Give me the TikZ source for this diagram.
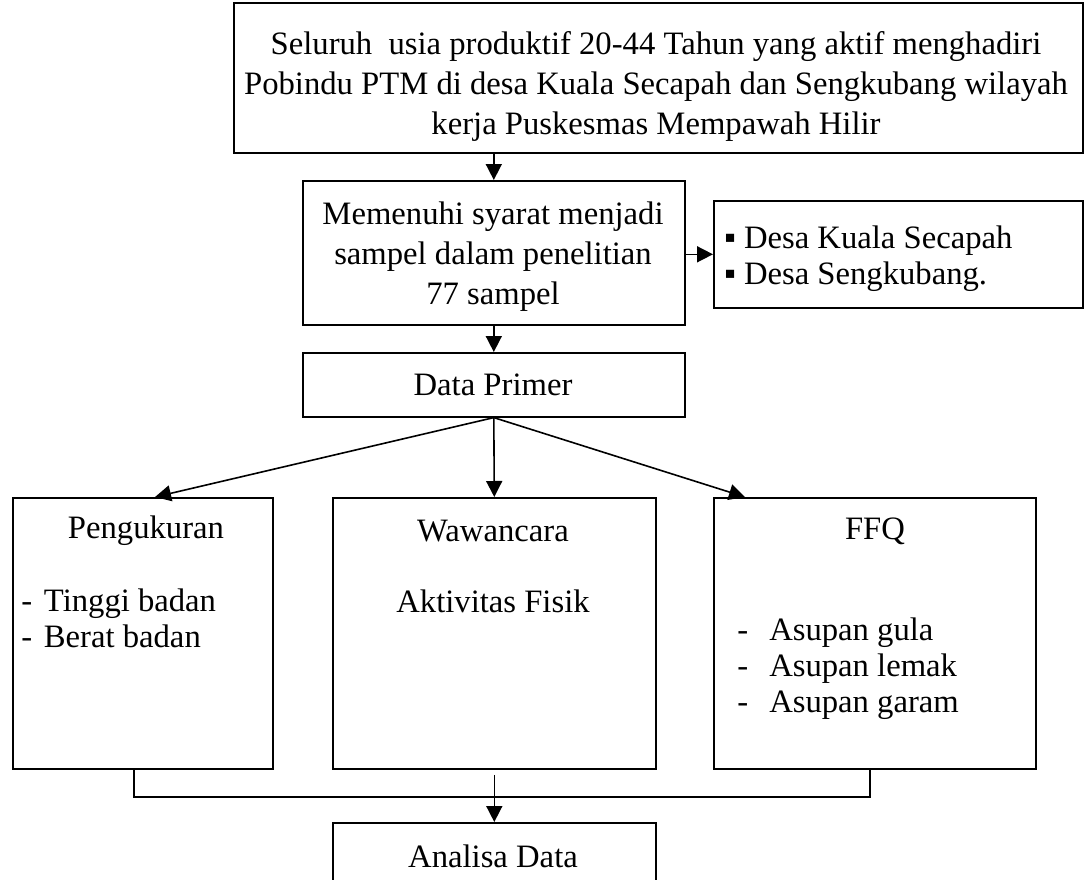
\documentclass[tikz,border=0pt]{standalone}
\usepackage{fontspec}
\setmainfont{Liberation Serif}
\usetikzlibrary{arrows.meta,positioning,calc}
\tikzset{
  kotak/.style={draw, line width=1.2pt, inner sep=0pt, anchor=north west},
  teks/.style={font=\fontsize{24.5}{30}\selectfont, inner sep=0pt, align=center},
  daftar/.style={font=\fontsize{24.5}{27}\selectfont, inner sep=0pt, anchor=west, align=left},
  garis/.style={line width=1.2pt},
  panah/.style={line width=1.2pt, -{Triangle[length=12pt,width=12pt]}},
}
\begin{document}
\begin{tikzpicture}[x=0.75pt,y=-0.75pt]
  \clip (0,0) rectangle (1084,879);

  % kotak-kotak
  \node[kotak, minimum width=636.75pt, minimum height=112.5pt] (populasi) at (233,2) {};
  \node[kotak, minimum width=286.5pt, minimum height=108pt] (syarat) at (302,180) {};
  \node[kotak, minimum width=276.75pt, minimum height=80.25pt] (desa) at (713,200) {};
  \node[kotak, minimum width=286.5pt, minimum height=48pt] (primer) at (302,352) {};
  \node[kotak, minimum width=195pt, minimum height=203.25pt] (ukur) at (12,497) {};
  \node[kotak, minimum width=242.25pt, minimum height=203.25pt] (wawan) at (332,497) {};
  \node[kotak, minimum width=241.5pt, minimum height=203.25pt] (ffq) at (713,497) {};
  \node[kotak, minimum width=242.25pt, minimum height=60pt] (analisa) at (332,822) {};

  % teks
  \node[teks] (tPopulasi) at (656,86) {Seluruh\ \ usia produktif 20-44 Tahun yang aktif menghadiri\\
    Pobindu PTM di desa Kuala Secapah dan Sengkubang wilayah\\
    kerja Puskesmas Mempawah Hilir};
  \node[teks] (tSyarat) at (493,257) {Memenuhi syarat menjadi\\sampel dalam penelitian\\77 sampel};
  \node[daftar] (tDesa) at (724,259) {▪ Desa Kuala Secapah\\▪ Desa Sengkubang.};
  \node[teks] (tPrimer) at (493,385) {Data Primer};
  \node[teks] (tUkur) at (146,531) {Pengukuran};
  \node[daftar] (tUkurIsi) at (21,618)
    {\makebox[17pt][l]{-}Tinggi badan\\\makebox[17pt][l]{-}Berat badan};
  \node[teks] (tWawan) at (493,531) {Wawancara};
  \node[teks] (tWawanIsi) at (493,601) {Aktivitas Fisik};
  \node[teks] (tFfq) at (875,531) {FFQ};
  \node[daftar] (tFfqIsi) at (737,669)
    {\makebox[24pt][l]{-}Asupan gula\\\makebox[24pt][l]{-}Asupan lemak\\\makebox[24pt][l]{-}Asupan garam};
  \node[teks] (tAnalisa) at (493,856) {Analisa Data};

  % panah
  \draw[panah] (syarat.north |- populasi.south) -- (syarat.north);
  \draw[panah] (syarat.east |- desa.west) -- (desa.west);
  \draw[panah] (syarat.south) -- (primer.north);
  \draw[panah] (primer.south) -- ($(ukur.north west)+(143,0)$);
  \draw[panah] (primer.south) -- (wawan.north);
  \draw[panah] (primer.south) -- ($(ffq.north west)+(32,0)$);

  % gabungan ke analisa
  \coordinate (gabungL) at (134,797);
  \coordinate (gabungR) at (870,797);
  \draw[garis] (gabungL |- ukur.south) -- (gabungL) -- (gabungR) -- (gabungR |- ffq.south);
  \draw[panah] ([yshift=-4pt]wawan.south) -- (analisa.north);
\end{tikzpicture}
\end{document}
